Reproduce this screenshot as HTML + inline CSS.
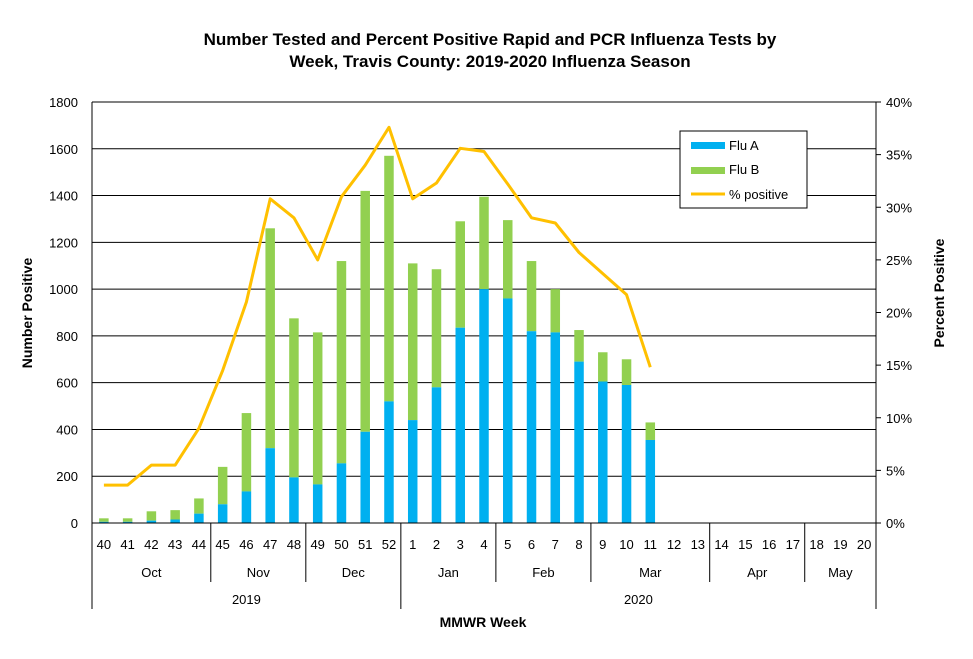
<!DOCTYPE html>
<html><head><meta charset="utf-8"><style>
html,body{margin:0;padding:0;background:#fff;}
svg{display:block;font-family:"Liberation Sans",Arial,sans-serif;}
</style></head><body>
<svg id="c" width="973" height="659" viewBox="0 0 973 659" xmlns="http://www.w3.org/2000/svg">
<text x="490" y="45" text-anchor="middle" font-size="17" font-weight="bold">Number Tested and Percent Positive Rapid and PCR Influenza Tests by</text>
<text x="490" y="67" text-anchor="middle" font-size="17" font-weight="bold">Week, Travis County:  2019-2020 Influenza Season</text>
<text transform="translate(32,313) rotate(-90)" text-anchor="middle" font-size="14" font-weight="bold">Number Positive</text>
<text transform="translate(944,293) rotate(-90)" text-anchor="middle" font-size="14" font-weight="bold">Percent Positive</text>
<text x="483" y="627" text-anchor="middle" font-size="14" font-weight="bold">MMWR Week</text>
<g id="g"></g>
<rect x="680" y="131" width="127" height="77" fill="#fff" stroke="#000" stroke-width="1"/>
<rect x="691" y="142" width="34" height="7" fill="#00B0F0"/>
<text x="729" y="150" font-size="13">Flu A</text>
<rect x="691" y="167" width="34" height="7" fill="#92D050"/>
<text x="729" y="174" font-size="13">Flu B</text>
<line x1="691" y1="194" x2="725" y2="194" stroke="#FFC000" stroke-width="3"/>
<text x="729" y="199" font-size="13">% positive</text>
</svg>
<script>
var L=92,R=876,B=523,T=102,N=33,W=(R-L)/N;
var tot=[20,20,50,55,105,240,470,1260,875,815,1120,1420,1570,1110,1085,1290,1395,1295,1120,1000,825,730,700,430];
var fa=[5,5,10,15,40,80,135,320,195,165,255,390,520,440,580,835,1000,960,820,815,690,605,590,355];
var pc=[3.6,3.6,5.5,5.5,9,14.5,21,30.8,29,25,31,34,37.6,30.8,32.3,35.6,35.3,32.2,29,28.5,25.7,23.7,21.7,14.8];
var wk=[40,41,42,43,44,45,46,47,48,49,50,51,52,1,2,3,4,5,6,7,8,9,10,11,12,13,14,15,16,17,18,19,20];
var s='';function yv(v){return B-v/1800*(B-T);}function yp(p){return B-p/40*(B-T);}
for(var i=1;i<=9;i++){var y=yv(i*200);s+='<line x1="'+L+'" y1="'+y+'" x2="'+R+'" y2="'+y+'" stroke="#000" stroke-width="1"/>';}
for(var i=0;i<=9;i++){s+='<text x="'+(L-14)+'" y="'+(yv(i*200)+5)+'" text-anchor="end" font-size="13">'+(i*200)+'</text>';}
for(var i=0;i<=8;i++){var y=yp(i*5);s+='<line x1="'+R+'" y1="'+y+'" x2="'+(R+5)+'" y2="'+y+'" stroke="#000"/><text x="'+(R+10)+'" y="'+(y+5)+'" font-size="13">'+(i*5)+'%</text>';}
var bw=9.5;
for(var i=0;i<tot.length;i++){var cx=L+W*(i+.5);s+='<rect x="'+(cx-bw/2)+'" y="'+yv(tot[i])+'" width="'+bw+'" height="'+(yv(fa[i])-yv(tot[i]))+'" fill="#92D050"/><rect x="'+(cx-bw/2)+'" y="'+yv(fa[i])+'" width="'+bw+'" height="'+(B-yv(fa[i]))+'" fill="#00B0F0"/>';}
var p='';for(var i=0;i<pc.length;i++){p+=(i?' L':'M')+(L+W*(i+.5)).toFixed(1)+' '+yp(pc[i]).toFixed(1);}
s+='<path d="'+p+'" fill="none" stroke="#FFC000" stroke-width="3" stroke-linejoin="round"/>';
s+='<line x1="'+L+'" y1="'+T+'" x2="'+R+'" y2="'+T+'" stroke="#000"/>';
s+='<line x1="'+L+'" y1="'+T+'" x2="'+L+'" y2="609" stroke="#000"/><line x1="'+R+'" y1="'+T+'" x2="'+R+'" y2="609" stroke="#000"/>';
s+='<line x1="'+L+'" y1="'+B+'" x2="'+R+'" y2="'+B+'" stroke="#000"/>';
for(var i=0;i<N;i++){s+='<text x="'+(L+W*(i+.5))+'" y="549" text-anchor="middle" font-size="13">'+wk[i]+'</text>';}
var mb=[5,9,13,17,21,26,30];for(var k=0;k<mb.length;k++){var x=L+W*mb[k];s+='<line x1="'+x+'" y1="'+B+'" x2="'+x+'" y2="'+(mb[k]==13?609:582)+'" stroke="#000"/>';}
var ms=[[0,5,'Oct'],[5,9,'Nov'],[9,13,'Dec'],[13,17,'Jan'],[17,21,'Feb'],[21,26,'Mar'],[26,30,'Apr'],[30,33,'May']];
for(var k=0;k<ms.length;k++){s+='<text x="'+(L+W*(ms[k][0]+ms[k][1])/2)+'" y="577" text-anchor="middle" font-size="13">'+ms[k][2]+'</text>';}
s+='<text x="'+(L+W*13/2)+'" y="604" text-anchor="middle" font-size="13">2019</text><text x="'+(L+W*(13+33)/2)+'" y="604" text-anchor="middle" font-size="13">2020</text>';
document.getElementById('g').innerHTML=s;
</script>
</body></html>
